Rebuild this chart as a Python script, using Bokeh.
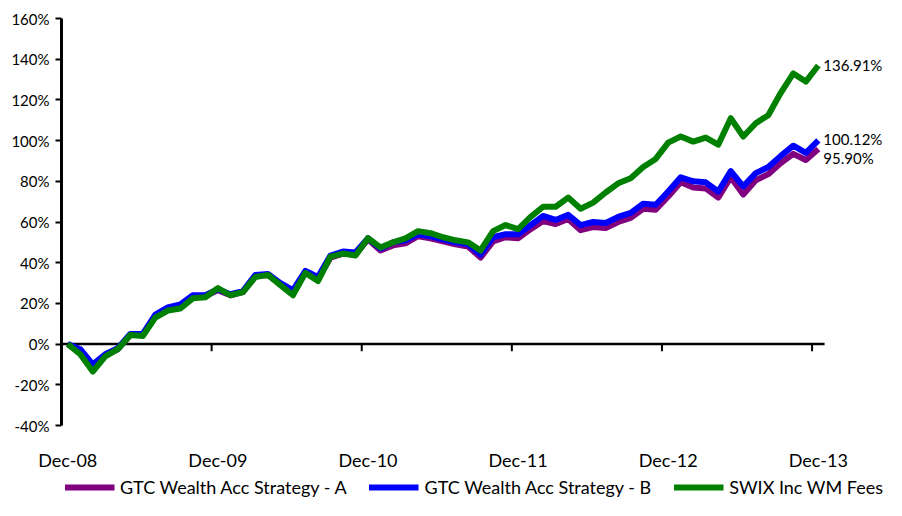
from bokeh.plotting import figure
from bokeh.layouts import column
from bokeh.models import FixedTicker, PrintfTickFormatter, Legend, LegendItem, ColumnDataSource
from bokeh.core.properties import value
from bokeh.embed import file_html
from bokeh.resources import INLINE

FONT = "Lato"

# Monthly cumulative returns (%) from Dec-08 to Dec-13
strategy_a = [0, -3, -10.5, -5.5, -2.5, 4.5, 4.5, 14, 17.5, 19, 23.5, 23.5,
              26.5, 24, 25.5, 33.5, 34, 29.5, 25.5, 35.5, 32, 42.5, 44.5, 44,
              51.5, 46, 48.5, 49.5, 53, 52, 50.5, 49, 48, 42.5, 50.5, 52.5,
              52, 56.5, 60.5, 59, 61.5, 56, 57.5, 57, 60, 62, 66.5, 66,
              72.5, 79.5, 77, 76.5, 72, 82, 73.5, 80.5, 83.5, 89, 93.5, 90.5,
              95.90]
strategy_b = [0, -2.5, -10, -5, -2, 5, 5, 14.5, 18, 19.5, 24, 24,
              27, 24.5, 26, 34, 34.5, 30, 26.5, 36, 33, 43.5, 45.5, 45,
              52, 47, 50, 51, 54, 53, 51.5, 50, 49, 44, 52.5, 54,
              54, 58.5, 63, 61, 63.5, 58.5, 60, 59.5, 62.5, 64.5, 69, 68.5,
              75, 82, 80, 79.5, 75, 85, 77.5, 84, 87, 92.5, 97.5, 94,
              100.12]
swix = [0, -5, -13.5, -6, -2.5, 4.5, 4, 13, 16.5, 17.5, 22.5, 23,
        27.5, 24, 25.5, 33, 34, 29, 24, 35, 31, 43, 44.5, 43.5,
        52, 47.5, 50, 52, 55.5, 54.5, 52.5, 51, 50, 46, 55.5, 58.5,
        56.5, 62.5, 67.5, 67.5, 72, 66.5, 69.5, 74.5, 79, 81.5, 87, 91,
        99, 102, 99.5, 101.5, 98, 111, 102, 108.5, 112.5, 123.5, 133, 129,
        136.91]

tick_labels = ["Dec-08", "Dec-09", "Dec-10", "Dec-11", "Dec-12", "Dec-13"]
months_per_label = 12
y_ticks = [-40, -20, 0, 20, 40, 60, 80, 100, 120, 140, 160]

series_names = ["GTC Wealth Acc Strategy - A", "GTC Wealth Acc Strategy - B", "SWIX Inc WM Fees"]
series_colors = ["#800080", "#0000FF", "#008000"]
series_values = [strategy_a, strategy_b, swix]

n = len(swix)
x = list(range(n))
label_ticks = [i * months_per_label for i in range(len(tick_labels))]
axis_start, axis_end = -0.5, n - 0.5
right_room = 4.95  # extra room (in months) for the end labels

p = figure(width=886, height=474, output_backend="svg", toolbar_location=None,
           x_range=(axis_start, axis_end + right_room), y_range=(-40, 160),
           min_border_left=61, min_border_right=0, min_border_top=18, min_border_bottom=49)
p.outline_line_color = None
p.xgrid.visible = False
p.ygrid.visible = False
p.background_fill_color = "white"
p.border_fill_color = "white"

# y axis
p.yaxis.ticker = FixedTicker(ticks=y_ticks)
p.yaxis.formatter = PrintfTickFormatter(format="%d%%")
p.yaxis.axis_line_width = 3
p.yaxis.axis_line_color = "black"
p.yaxis.major_tick_line_width = 2
p.yaxis.major_tick_out = 6
p.yaxis.major_tick_in = 0
p.yaxis.minor_tick_line_color = None
p.yaxis.major_label_standoff = 6
p.yaxis.major_label_text_font = FONT
p.yaxis.major_label_text_font_size = "15px"
p.yaxis.major_label_text_color = "black"

# x axis (labels only, placed low)
p.xaxis.ticker = FixedTicker(ticks=label_ticks)
p.xaxis.major_label_overrides = {t: l for t, l in zip(label_ticks, tick_labels)}
p.xaxis.axis_line_color = None
p.xaxis.major_tick_line_color = None
p.xaxis.major_tick_out = 0
p.xaxis.major_tick_in = 0
p.xaxis.minor_tick_line_color = None
p.xaxis.minor_tick_out = 0
p.xaxis.major_label_standoff = 23
p.xaxis.major_label_text_font = FONT
p.xaxis.major_label_text_font_size = "18px"
p.xaxis.major_label_text_color = "black"

# zero line acting as category axis, with ticks between year groups
p.segment(x0=[axis_start], y0=[0], x1=[axis_end], y1=[0], line_color="black", line_width=2.5)
tick_x = [t - 0.5 for t in label_ticks[1:]]
p.segment(x0=tick_x, y0=[0] * len(tick_x), x1=tick_x, y1=[-3.5] * len(tick_x),
          line_color="black", line_width=2)

for name, col, vals in zip(series_names, series_colors, series_values):
    p.line(x, vals, line_color=col, line_width=6, line_join="round")

# end labels
end_offsets = [9, -1, 0]
for col, vals, off in zip(series_colors, series_values, end_offsets):
    src = ColumnDataSource(dict(x=[n - 1], y=[vals[-1]], t=["%.2f%%" % vals[-1]]))
    p.text(x="x", y="y", text="t", source=src, x_offset=5, y_offset=off,
           text_font=value(FONT), text_font_size="15px", text_baseline="middle",
           text_align="left", text_color="black")

# legend strip (series drawn off-range so only the legend shows)
lg = figure(width=886, height=26, output_backend="svg", toolbar_location=None,
            x_range=(0, 1), y_range=(1000, 1001), x_axis_type=None, y_axis_type=None,
            min_border_left=0, min_border_right=0, min_border_top=0, min_border_bottom=0)
lg.outline_line_color = None
lg.xgrid.visible = False
lg.ygrid.visible = False
items = []
for name, col, vals in zip(series_names, series_colors, series_values):
    r = lg.line(x, vals, line_color=col, line_width=6)
    items.append(LegendItem(label=name, renderers=[r]))
legend = Legend(items=items, orientation="horizontal", location="center")
legend.label_text_font = FONT
legend.label_text_font_size = "18px"
legend.label_text_color = "black"
legend.glyph_width = 50
legend.glyph_height = 24
legend.label_height = 24
legend.label_standoff = 6
legend.spacing = 22
legend.padding = 0
legend.margin = 0
legend.border_line_color = None
legend.background_fill_alpha = 0
lg.add_layout(legend, "center")

layout = column(p, lg, spacing=0)
open("out.html", "w").write(file_html(layout, INLINE))
